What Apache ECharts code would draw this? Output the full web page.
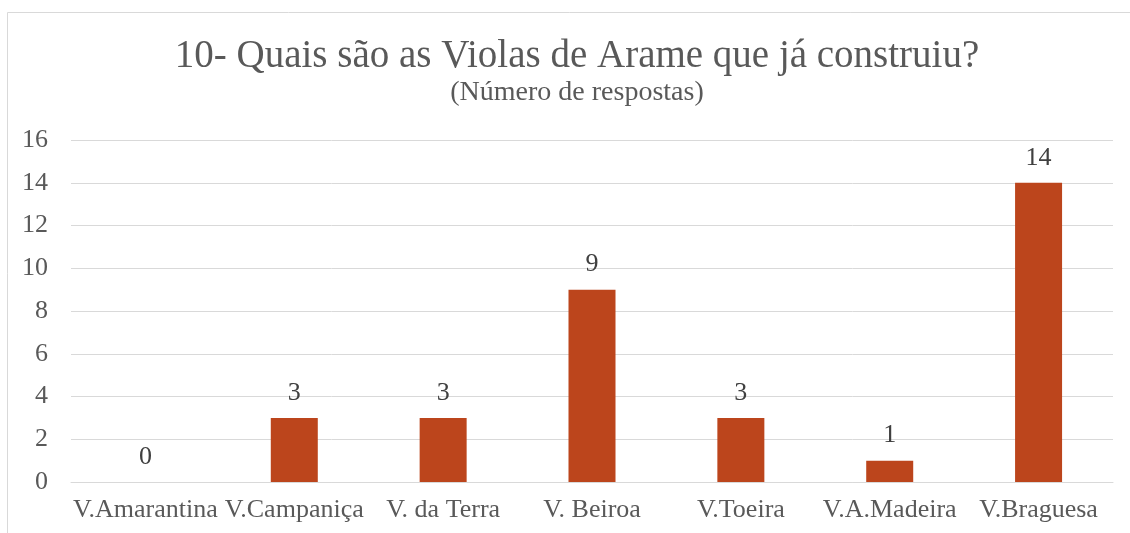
<!DOCTYPE html>
<html>
<head>
<meta charset="utf-8">
<script src="https://cdn.jsdelivr.net/npm/echarts@6/dist/echarts.min.js"></script>
<style>
  html, body { margin: 0; padding: 0; background: #ffffff; }
  #chart { width: 1130px; height: 533px; }
</style>
</head>
<body>
<div id="chart"></div>
<script>
// Instrument types and how many respondents built each one
const categories = ['V.Amarantina', 'V.Campaniça', 'V. da Terra', 'V. Beiroa', 'V.Toeira', 'V.A.Madeira', 'V.Braguesa'];
const responses = [0, 3, 3, 9, 3, 1, 14];

const titleText = '10- Quais são as Violas de Arame que já construiu?';
const subtitleText = '(Número de respostas)';

const serif = '"Liberation Serif", "Times New Roman", serif';

const chart = echarts.init(document.getElementById('chart'), null, { renderer: 'canvas' });

chart.setOption({
  backgroundColor: '#ffffff',
  animation: false,
  title: {
    text: titleText,
    subtext: subtitleText,
    left: 572,
    textAlign: 'center',
    top: 32,
    itemGap: 3,
    textStyle: { fontFamily: serif, fontSize: 39, fontWeight: 'normal', color: '#595959' },
    subtextStyle: { fontFamily: serif, fontSize: 28, color: '#595959' }
  },
  graphic: [{
    type: 'rect',
    shape: { x: 7.5, y: 12.5, width: 1300, height: 700 },
    style: { fill: 'none', stroke: '#d9d9d9', lineWidth: 1 },
    silent: true
  }],
  grid: { left: 71, right: 17, top: 140, bottom: 51 },
  xAxis: {
    type: 'category',
    data: categories,
    axisLine: { lineStyle: { color: '#d9d9d9', width: 1 } },
    axisTick: { show: false },
    axisLabel: { fontFamily: serif, fontSize: 26, color: '#595959', margin: 15, interval: 0 }
  },
  yAxis: {
    type: 'value',
    min: 0,
    max: 16,
    interval: 2,
    axisLine: { show: false },
    axisTick: { show: false },
    splitLine: { lineStyle: { color: '#d9d9d9', width: 1 } },
    axisLabel: { fontFamily: serif, fontSize: 26, color: '#595959', margin: 23 }
  },
  series: [{
    type: 'bar',
    data: responses,
    barWidth: 47,
    itemStyle: { color: '#bc451c' },
    label: {
      show: true,
      position: 'top',
      distance: 12,
      fontFamily: serif,
      fontSize: 26,
      color: '#404040'
    }
  }]
});
</script>
</body>
</html>
